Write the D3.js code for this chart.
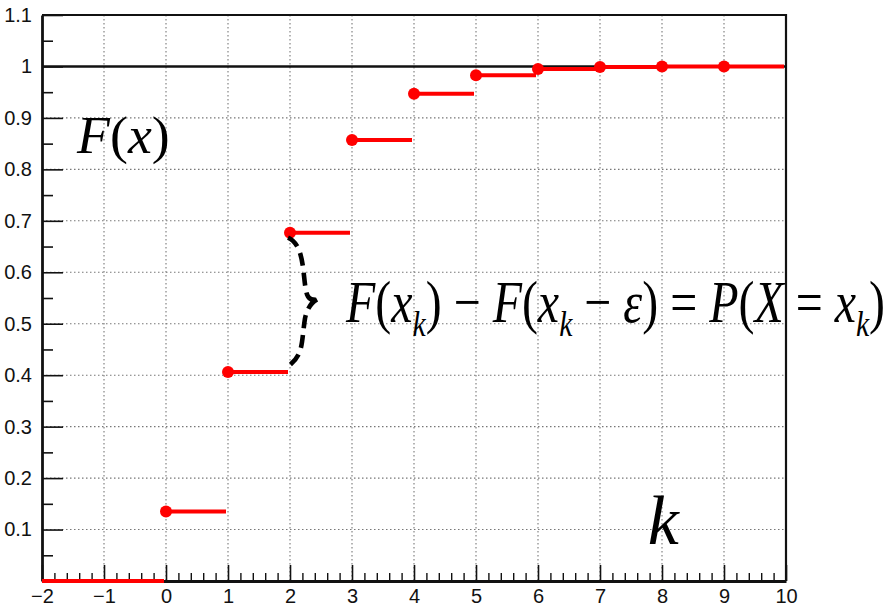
<!DOCTYPE html>
<html>
<head>
<meta charset="utf-8">
<script src="https://cdn.jsdelivr.net/npm/d3@7"></script>
<style>
  html, body { margin: 0; padding: 0; background: #fff; }
  svg { display: block; }
</style>
</head>
<body>
<svg id="chart" width="891" height="607"></svg>
<script>
// Cumulative distribution F(k) of a discrete variable, k = 0..9
const kValues = [0, 1, 2, 3, 4, 5, 6, 7, 8, 9];
const cdfValues = [0.135, 0.406, 0.677, 0.857, 0.947, 0.983, 0.995, 0.999, 1.0, 1.0];

// Axis ticks and labels
const xMajorTicks = [-2, -1, 0, 1, 2, 3, 4, 5, 6, 7, 8, 9, 10];
const xTickLabels = ["\u22122", "\u22121", "0", "1", "2", "3", "4", "5", "6", "7", "8", "9", "10"];
const yMajorTicks = [0.1, 0.2, 0.3, 0.4, 0.5, 0.6, 0.7, 0.8, 0.9, 1.0, 1.1];
const yTickLabels = ["0.1", "0.2", "0.3", "0.4", "0.5", "0.6", "0.7", "0.8", "0.9", "1", "1.1"];
const xDomain = [-2, 10];
const yDomain = [0, 1.1];

const W = 891, H = 607;
const margin = { left: 42, right: 105, top: 15, bottom: 26 };

const svg = d3.select("#chart");
const x = d3.scaleLinear().domain(xDomain).range([margin.left, W - margin.right]);
const y = d3.scaleLinear().domain(yDomain).range([H - margin.bottom, margin.top]);

const plotL = x(xDomain[0]), plotR = x(xDomain[1]);
const plotT = y(yDomain[1]), plotB = y(yDomain[0]);

// Dotted grid at the major ticks
const grid = svg.append("g")
  .attr("stroke", "#777").attr("stroke-width", 1.1)
  .attr("stroke-dasharray", "1.5,2.5");
grid.selectAll("line.gx")
  .data(xMajorTicks.filter(v => v > xDomain[0] && v < xDomain[1]))
  .join("line").attr("class", "gx")
  .attr("x1", d => x(d)).attr("x2", d => x(d))
  .attr("y1", plotT).attr("y2", plotB);
grid.selectAll("line.gy")
  .data(yMajorTicks.filter(v => v < yDomain[1]))
  .join("line").attr("class", "gy")
  .attr("x1", plotL).attr("x2", plotR)
  .attr("y1", d => y(d)).attr("y2", d => y(d));

// Frame: top and right edges
svg.append("path")
  .attr("d", `M${plotL},${plotT}H${plotR}V${plotB}`)
  .attr("fill", "none").attr("stroke", "#111").attr("stroke-width", 2.2);

// Minor ticks
const xMinor = d3.range(xDomain[0], xDomain[1] + 1e-9, 0.2)
  .filter(v => Math.abs(v - Math.round(v)) > 1e-6);
const yMinor = d3.range(0.05, 1.1, 0.1);

const xMinorAxis = d3.axisBottom(x).tickValues(xMinor).tickFormat("").tickSizeInner(-8).tickSizeOuter(0);
const yMinorAxis = d3.axisLeft(y).tickValues(yMinor).tickFormat("").tickSizeInner(-11).tickSizeOuter(0);
svg.append("g").attr("transform", `translate(0,${plotB})`).call(xMinorAxis)
  .call(g => g.select(".domain").remove())
  .selectAll("line").attr("stroke", "#111").attr("stroke-width", 1.4);
svg.append("g").attr("transform", `translate(${plotL},0)`).call(yMinorAxis)
  .call(g => g.select(".domain").remove())
  .selectAll("line").attr("stroke", "#111").attr("stroke-width", 1.6);

// Major axes
const xAxis = d3.axisBottom(x).tickValues(xMajorTicks)
  .tickFormat((d, i) => xTickLabels[i]).tickSizeInner(-16).tickSizeOuter(0).tickPadding(8);
const yAxis = d3.axisLeft(y).tickValues(yMajorTicks)
  .tickFormat((d, i) => yTickLabels[i]).tickSizeInner(-21).tickSizeOuter(0).tickPadding(10);

const gx = svg.append("g").attr("transform", `translate(0,${plotB})`).call(xAxis);
const gy = svg.append("g").attr("transform", `translate(${plotL},0)`).call(yAxis);
[gx, gy].forEach(g => {
  g.select(".domain").attr("stroke", "#111").attr("stroke-width", 2.8);
  g.selectAll(".tick line").attr("stroke", "#111").attr("stroke-width", 1.6);
  g.selectAll(".tick text")
    .attr("fill", "#111")
    .style("font-family", "'Liberation Sans', Arial, Helvetica, sans-serif")
    .style("font-size", "20px");
});

// Reference line at F = 1
svg.append("line")
  .attr("x1", plotL).attr("x2", plotR)
  .attr("y1", y(1)).attr("y2", y(1))
  .attr("stroke", "#111").attr("stroke-width", 2.6);

// Step function: F = 0 left of the first jump, then F(k) on [k, k+1)
const red = "#ff0000";
const steps = [{ x0: xDomain[0], x1: kValues[0], v: 0 }]
  .concat(kValues.map((k, i) => ({ x0: k, x1: k + 1, v: cdfValues[i] })));
svg.append("g").selectAll("line")
  .data(steps).join("line")
  .attr("x1", d => x(d.x0)).attr("x2", d => x(d.x1) - 2)
  .attr("y1", d => y(d.v)).attr("y2", d => y(d.v))
  .attr("stroke", red).attr("stroke-width", 4);
svg.append("g").selectAll("circle")
  .data(kValues.map((k, i) => ({ k, v: cdfValues[i] })))
  .join("circle")
  .attr("cx", d => x(d.k)).attr("cy", d => y(d.v))
  .attr("r", 6).attr("fill", red);

// Curly brace marking the jump at k = 2
{
  const x0 = x(kValues[2]);
  const top = y(cdfValues[2]) + 5;
  const bot = y(cdfValues[1]) - 5;
  const mid = (top + bot) / 2;
  const d = [
    `M${x0 - 2},${top}`,
    `C${x0 + 16},${top + 8} ${x0 + 12},${mid - 24} ${x0 + 17},${mid - 8}`,
    `Q${x0 + 20},${mid} ${x0 + 28},${mid - 4}`,
    `M${x0 + 27},${mid - 3}`,
    `Q${x0 + 18},${mid + 2} ${x0 + 15},${mid + 16}`,
    `C${x0 + 11},${mid + 42} ${x0 + 14},${bot - 12} ${x0 - 3},${bot}`
  ].join(" ");
  svg.append("path").attr("d", d)
    .attr("fill", "none").attr("stroke", "#000")
    .attr("stroke-width", 4.6).attr("stroke-dasharray", "13,7");
}

// Math-style text helper: pieces [text, italic, subscript]
function mathText(parent, pieces, opts) {
  const g = parent.append("g");
  const t = g.append("text")
    .attr("x", 0).attr("y", 0)
    .attr("fill", "#000")
    .style("font-family", "'Liberation Serif', 'Times New Roman', serif")
    .style("font-size", opts.size + "px")
    .attr("xml:space", "preserve");
  let sub = false;
  pieces.forEach(([s, it, isSub]) => {
    const ts = t.append("tspan").text(s)
      .style("font-style", it ? "italic" : "normal");
    if (isSub && !sub) { ts.attr("dy", opts.size * 0.24); sub = true; }
    else if (!isSub && sub) { ts.attr("dy", -opts.size * 0.24); sub = false; }
    if (isSub) ts.style("font-size", (opts.size * 0.62) + "px");
  });
  const bb = t.node().getBBox();
  const sx = opts.width ? opts.width / bb.width : 1;
  g.attr("transform", `translate(${opts.x - bb.x * sx},${opts.y}) scale(${sx},1)`);
  return g;
}

mathText(svg, [["F", true], ["(", false], ["x", true], [")", false]],
  { x: x(-1.45), y: y(0.832), size: 53, width: x(0.06) - x(-1.45) });

mathText(svg, [
  ["F", true], ["(", false], ["x", true], ["k", true, true], [")", false],
  [" \u2212 ", false], ["F", true], ["(", false], ["x", true], ["k", true, true],
  [" \u2212 ", false], ["\u03b5", true], [")", false], [" = ", false],
  ["P", true], ["(", false], ["X", true], [" = ", false], ["x", true], ["k", true, true], [")", false]
], { x: x(2.89), y: y(0.503), size: 59, width: 540 });

mathText(svg, [["k", true]], { x: x(7.77), y: y(0.072), size: 70 });
</script>
</body>
</html>
